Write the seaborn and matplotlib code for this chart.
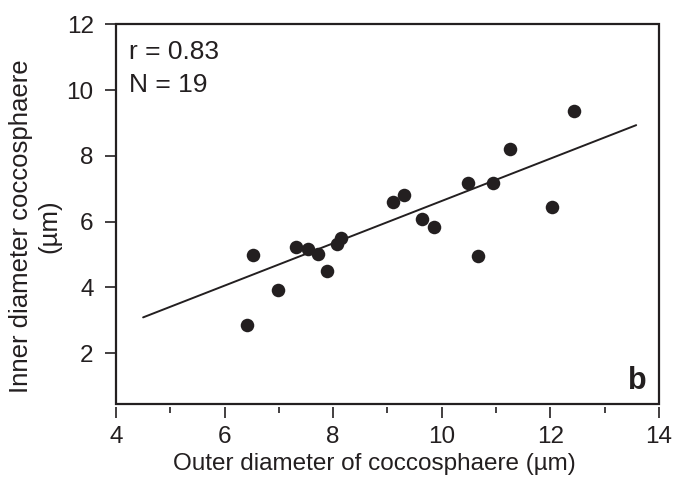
import numpy as np
import pandas as pd
import matplotlib
matplotlib.use("Agg")
import matplotlib.pyplot as plt
import seaborn as sns
from matplotlib.patches import Rectangle
from matplotlib.ticker import MultipleLocator

outer = [6.53, 6.98, 6.41, 7.32, 7.54, 7.72, 7.89, 8.07, 8.15, 9.11,
         9.31, 9.63, 9.86, 10.49, 10.94, 11.25, 10.67, 12.03, 12.43]
inner = [4.99, 3.92, 2.86, 5.22, 5.18, 5.00, 4.50, 5.32, 5.49, 6.59,
         6.80, 6.07, 5.82, 7.16, 7.16, 8.20, 4.95, 6.44, 9.37]
# regression line as drawn in the figure (slope, intercept) and its x extent
fit_slope = 0.644
fit_intercept = 0.187
fit_x_range = [4.5, 13.58]
x_ticks = [4, 6, 8, 10, 12, 14]
y_ticks = [2, 4, 6, 8, 10, 12]
stats_text = "r = 0.83\nN = 19"
panel_label = "b"
x_label = "Outer diameter of coccosphaere (µm)"
y_label = "Inner diameter coccosphaere\n(µm)"

df = pd.DataFrame({"outer": outer, "inner": inner})
fit_df = pd.DataFrame({"x": fit_x_range})
fit_df["y"] = fit_slope * fit_df["x"] + fit_intercept

sns.set_style("ticks")
plt.rcParams["font.family"] = ["Liberation Sans", "DejaVu Sans"]

fig = plt.figure(figsize=(6.77, 4.86), dpi=100)
ax = fig.add_axes([0.1713, 0.1687, 0.8021, 0.7813])

dark = "#231f20"
sns.scatterplot(data=df, x="outer", y="inner", ax=ax, s=95, color=dark,
                edgecolor=dark, linewidth=0, zorder=3)
sns.lineplot(data=fit_df, x="x", y="y", ax=ax, color=dark, lw=1.4, zorder=2)

ax.set_xlim(4, 14)
ax.set_ylim(0.45, 12)
ax.set_xticks(x_ticks)
ax.set_yticks(y_ticks)
ax.xaxis.set_minor_locator(MultipleLocator(1))

for sp in ax.spines.values():
    sp.set_visible(False)
ax.spines["bottom"].set_position(("outward", 2))
ax.add_patch(Rectangle((0, 0), 1, 1, transform=ax.transAxes, fill=False,
                       lw=1.6, edgecolor=dark, clip_on=False, zorder=5))

ax.tick_params(axis="x", which="major", length=8, width=1.2, color=dark,
               labelsize=17.5, pad=5.5, labelcolor=dark)
ax.tick_params(axis="x", which="minor", length=4.5, width=1.2, color=dark)
ax.tick_params(axis="y", which="major", length=8, width=1.2, color=dark,
               labelsize=17.5, pad=8, labelcolor=dark)

ax.set_xlabel(x_label, fontsize=17.5, color=dark, labelpad=4)
ax.xaxis.label.set_x(0.475)
ax.set_ylabel(y_label, fontsize=18.5, color=dark, labelpad=4, linespacing=1.22)
ax.yaxis.label.set_y(0.468)

ax.text(0.024, 0.958, stats_text, transform=ax.transAxes, ha="left", va="top",
        fontsize=19, color=dark, linespacing=1.45)
ax.text(0.978, 0.022, panel_label, transform=ax.transAxes, ha="right",
        va="bottom", fontsize=22, fontweight="bold", color=dark)

fig.savefig("out.png", dpi=100)
